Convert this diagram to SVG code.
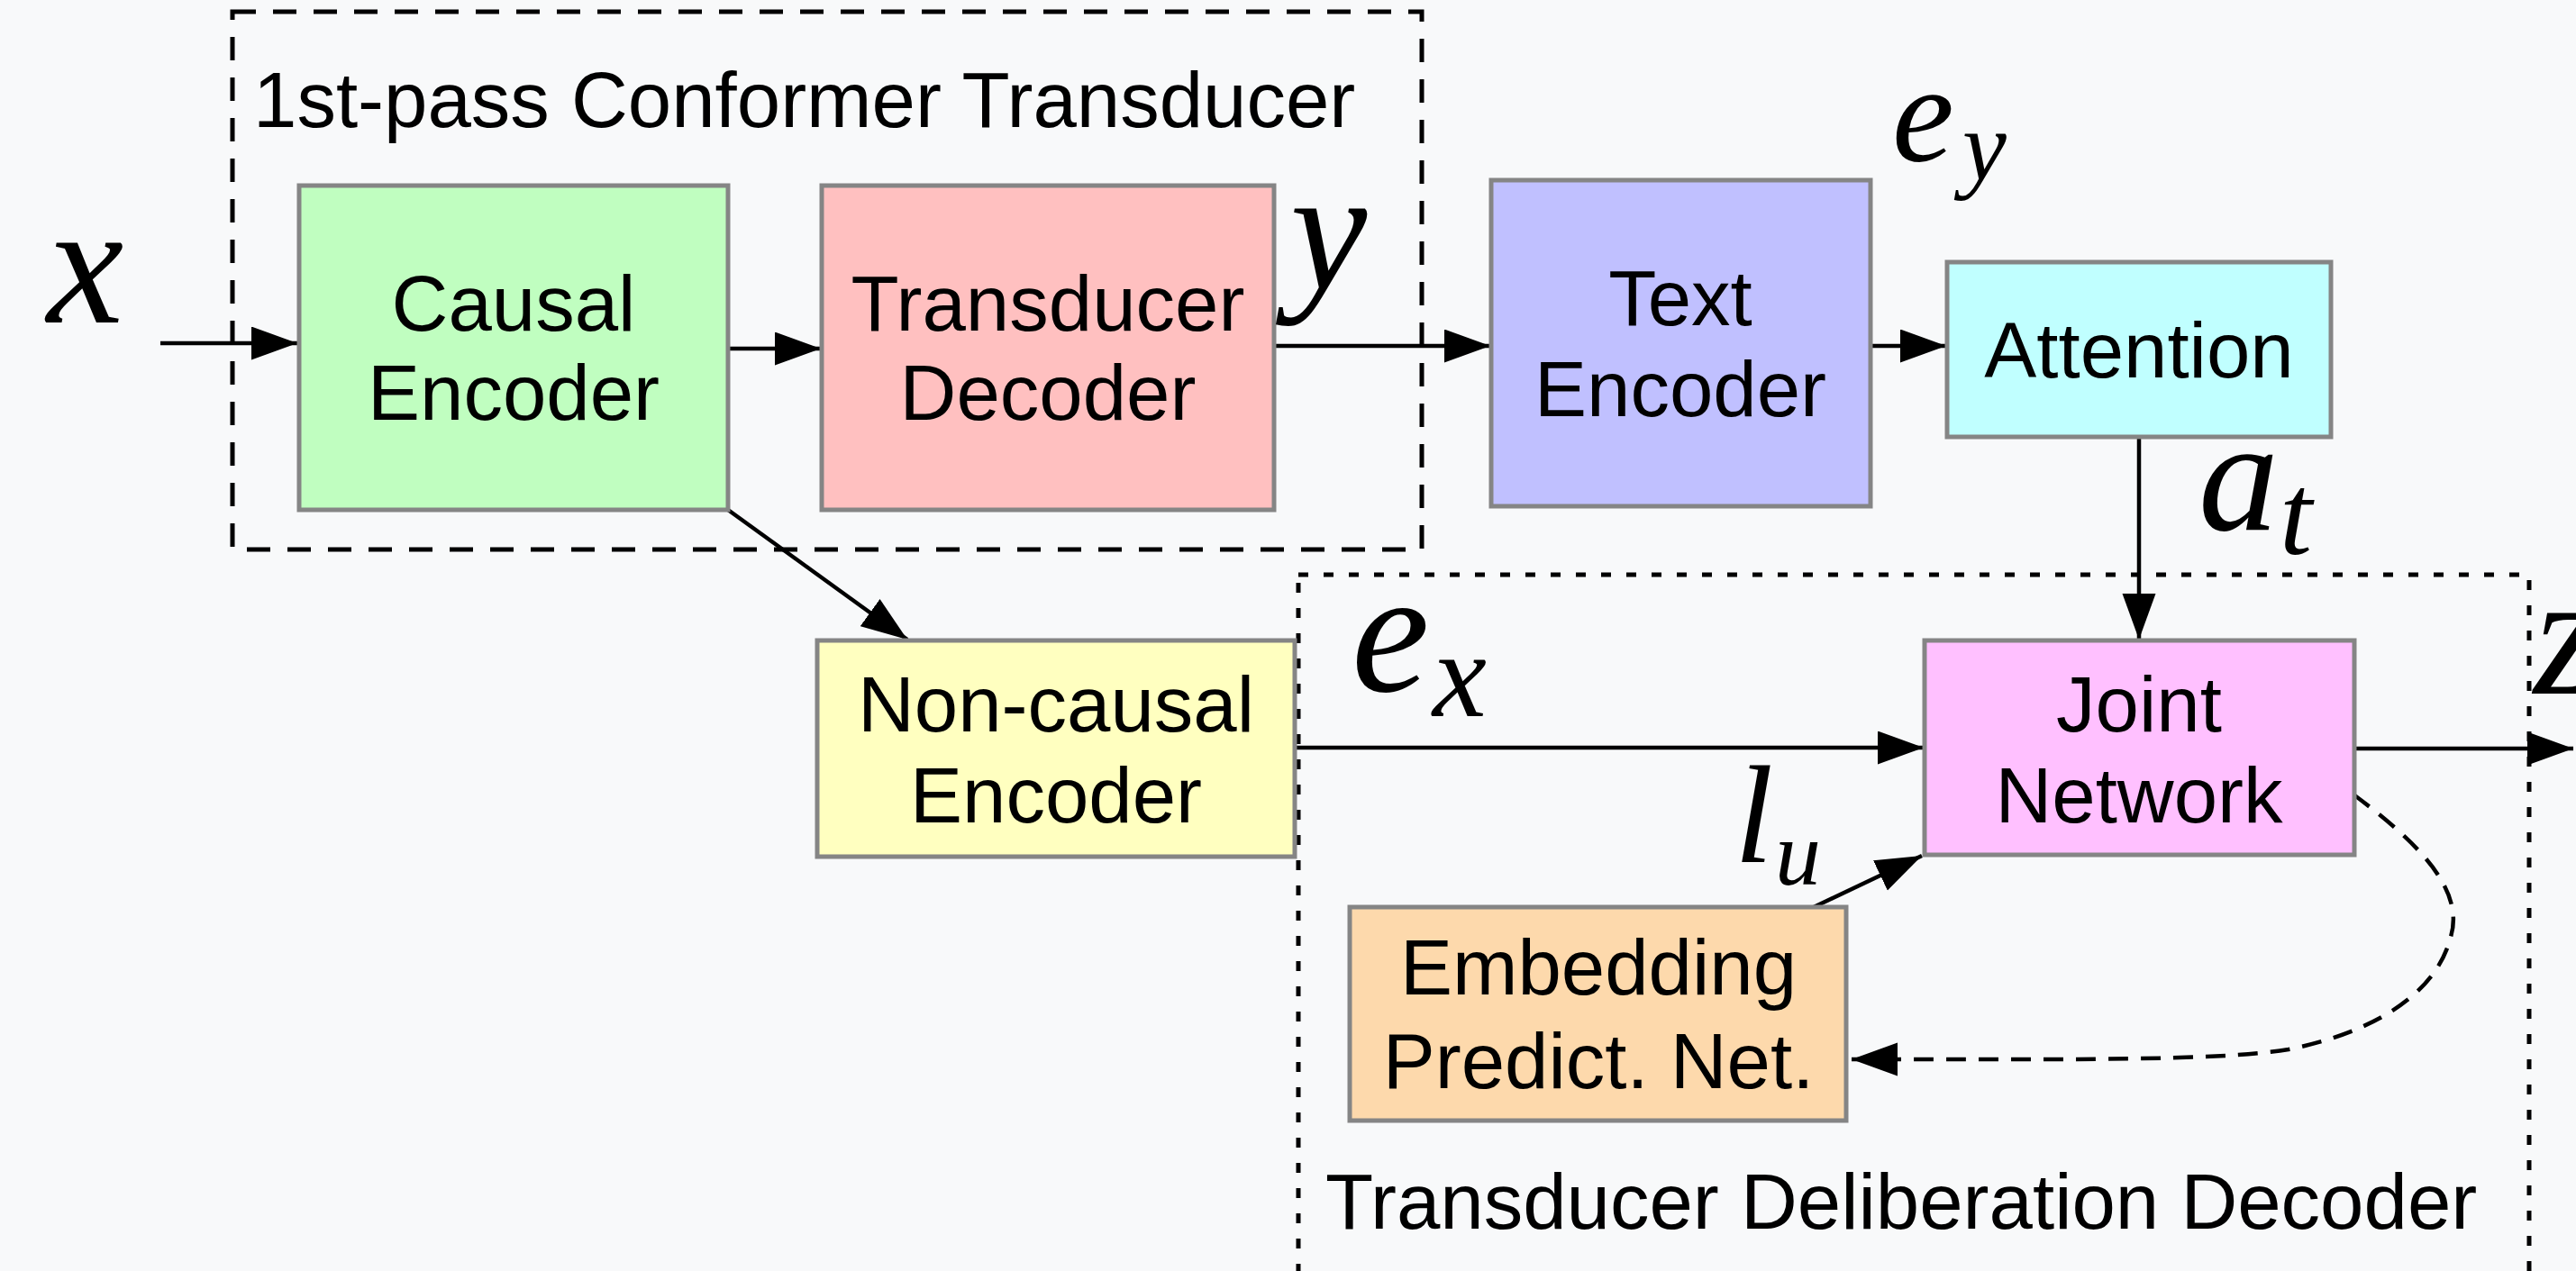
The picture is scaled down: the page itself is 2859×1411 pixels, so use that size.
<svg xmlns="http://www.w3.org/2000/svg" width="2859" height="1411" viewBox="0 0 2859 1411">
<style>
.box{stroke:#858585;stroke-width:5}
.lbl{font-family:"Liberation Sans",Arial,sans-serif;font-size:87px;fill:#000;text-anchor:middle}
.cap{font-family:"Liberation Sans",Arial,sans-serif;font-size:87px;fill:#000}
.m{font-family:"Liberation Serif","Times New Roman",serif;font-style:italic;fill:#000}
.arr{stroke:#000;stroke-width:4.5;fill:none;marker-end:url(#ah)}
</style>
<defs>
<marker id="ah" markerUnits="userSpaceOnUse" markerWidth="52" markerHeight="38" refX="51" refY="18.5" orient="auto">
<path d="M0,0 L51,18.5 L0,37 z" fill="#000"/>
</marker>
</defs>
<rect width="2859" height="1411" fill="#f8f9fa"/>
<g id="group-first-pass">
<rect x="258" y="13" width="1320" height="597" fill="none" stroke="#000" stroke-width="5" stroke-dasharray="26 19"/>
<text class="cap" x="281" y="141">1st-pass Conformer Transducer</text>
</g>
<g id="group-deliberation">
<rect x="1441" y="638" width="1366" height="800" fill="none" stroke="#000" stroke-width="5" stroke-dasharray="11 17"/>
<text class="cap" x="1471" y="1364">Transducer Deliberation Decoder</text>
</g>
<g id="connectors">
<path class="arr" d="M178,381 L330,381"/>
<path class="arr" d="M809,387 L911,387"/>
<path class="arr" d="M1415,384 L1654,384"/>
<path class="arr" d="M2077,384 L2160,384"/>
<path class="arr" d="M2374,486 L2374,710"/>
<path class="arr" d="M808,566 L1007,710"/>
<path class="arr" d="M1437,830 L2135,830"/>
<path class="arr" d="M2614,831 L2856,831"/>
<path class="arr" d="M2013,1007 L2133,950"/>
<path class="arr" stroke-width="3.5" stroke-dasharray="22 14" d="M2612,882 C2690,940 2735,990 2720,1040 C2705,1100 2640,1145 2540,1165 C2460,1178 2300,1176 2055,1176"/>
</g>
<g id="node-causal-encoder">
<rect class="box" x="332" y="206" width="476" height="360" fill="#c0fec0"/>
<text class="lbl" x="570" y="367">Causal</text>
<text class="lbl" x="570" y="466">Encoder</text>
</g>
<g id="node-transducer-decoder">
<rect class="box" x="912" y="206" width="502" height="360" fill="#ffc0c0"/>
<text class="lbl" x="1163" y="367">Transducer</text>
<text class="lbl" x="1163" y="466">Decoder</text>
</g>
<g id="node-text-encoder">
<rect class="box" x="1655" y="200" width="421" height="362" fill="#c0c0ff"/>
<text class="lbl" x="1865" y="361">Text</text>
<text class="lbl" x="1865" y="462">Encoder</text>
</g>
<g id="node-attention">
<rect class="box" x="2161" y="291" width="426" height="194" fill="#c0ffff"/>
<text class="lbl" x="2374" y="419">Attention</text>
</g>
<g id="node-non-causal-encoder">
<rect class="box" x="907" y="711" width="530" height="240" fill="#ffffc0"/>
<text class="lbl" x="1172" y="812">Non-causal</text>
<text class="lbl" x="1172" y="913">Encoder</text>
</g>
<g id="node-joint-network">
<rect class="box" x="2136" y="711" width="477" height="238" fill="#ffc0ff" stroke="#958a95"/>
<text class="lbl" x="2374" y="812">Joint</text>
<text class="lbl" x="2374" y="913">Network</text>
</g>
<g id="node-embedding">
<rect class="box" x="1498" y="1007" width="551" height="237" fill="#fdd9ac"/>
<text class="lbl" x="1774" y="1104">Embedding</text>
<text class="lbl" x="1774" y="1208">Predict. Net.</text>
</g>
<g id="math-labels">
<text class="m" x="52" y="358" font-size="192">x</text>
<text class="m" x="1432" y="320" font-size="192">y</text>
<text class="m" x="2100" y="178" font-size="155">e</text>
<text class="m" x="2178" y="200" font-size="110">y</text>
<text class="m" x="2440" y="588" font-size="178">a</text>
<text class="m" x="2530" y="615" font-size="130">t</text>
<text class="m" x="1500" y="767" font-size="195">e</text>
<text class="m" x="1590" y="795" font-size="135">x</text>
<text class="m" x="1925" y="957" font-size="155">l</text>
<text class="m" x="1970" y="982" font-size="102">u</text>
<text class="m" x="2812" y="770" font-size="195">z</text>
</g>
</svg>
